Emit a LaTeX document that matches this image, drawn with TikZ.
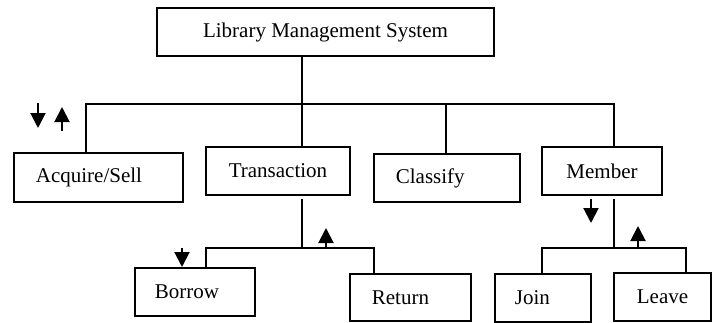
\documentclass[tikz,border=0pt]{standalone}
\usepackage{fontspec}
\setmainfont{Liberation Serif}
\usetikzlibrary{arrows.meta}
\begin{document}
\begin{tikzpicture}[x=1pt,y=-1pt,
  every node/.style={font=\fontsize{21}{25}\selectfont},
  wire/.style={line width=1.8pt, line cap=rect},
  % box with centred label
  cbox/.style n args={2}{draw, line width=1.8pt, rectangle, inner sep=0pt,
    minimum width=#1, minimum height=#2},
  % box with left-aligned label: text width, left padding, height
  lbox/.style n args={3}{draw, line width=1.8pt, rectangle, anchor=north west,
    align=left, text width=#1, inner xsep=#2, inner ysep=0pt, minimum height=#3},
  flow/.style={line width=2pt, -{Triangle[width=15pt,length=15pt]}}]
\useasboundingbox (0,0) rectangle (716,322);

% boxes
\node[cbox={337}{48}] (top) at (325.5,32) {Library Management System};
\node[lbox={125}{22}{49}] (acq) at (13,152) {Acquire/Sell};
\node[cbox={144}{48}] (trans) at (278,171) {Transaction};
\node[lbox={102}{22}{48}] (cls) at (373,153) {Classify};
\node[cbox={120}{48}] (mem) at (602,171) {Member};
\node[lbox={80}{20}{48}] (bor) at (134,267) {Borrow};
\node[lbox={77}{22}{47}] (ret) at (349,273) {Return};
\node[lbox={56}{20}{48}] (join) at (494,273) {Join};
\node[cbox={97}{48}] (leave) at (662.5,297) {Leave};

% first level
\coordinate (hub) at (302,104);
\coordinate (busL) at (86,104);
\coordinate (busR) at (614,104);
\coordinate (busC) at (446,104);
\draw[wire] (top.south -| hub) -- (hub);
\draw[wire] (busL |- acq.north) -- (busL) -- (busR) -- (busR |- mem.north);
\draw[wire] (hub) -- (hub |- trans.north);
\draw[wire] (busC) -- (busC |- cls.north);

% transaction branch
\coordinate (tgap) at (302,200);
\coordinate (thub) at (302,248);
\coordinate (tL) at (206,248);
\coordinate (tR) at (374,248);
\draw[wire] (tgap) -- (thub);
\draw[wire] (tL |- bor.north) -- (tL) -- (tR) -- (tR |- ret.north);

% member branch
\coordinate (mgap) at (614,200);
\coordinate (mhub) at (614,248);
\coordinate (mL) at (542,248);
\coordinate (mR) at (686,248);
\draw[wire] (mgap) -- (mhub);
\draw[wire] (mL |- join.north) -- (mL) -- (mR) -- (mR |- leave.north);

% direction arrows
\coordinate (a1s) at (38,103);  \coordinate (a1e) at (38,128);
\coordinate (a2s) at (62,131);  \coordinate (a2e) at (62,107);
\coordinate (a3s) at (182,248);
\coordinate (a4s) at (326,248); \coordinate (a4e) at (326,228);
\coordinate (a5s) at (591,199); \coordinate (a5e) at (591,223);
\coordinate (a6s) at (638,248); \coordinate (a6e) at (638,226);
\draw[flow] (a1s) -- (a1e);
\draw[flow] (a2s) -- (a2e);
\draw[flow] (a3s) -- (a3s |- bor.north);
\draw[flow] (a4s) -- (a4e);
\draw[flow] (a5s) -- (a5e);
\draw[flow] (a6s) -- (a6e);
\end{tikzpicture}
\end{document}
